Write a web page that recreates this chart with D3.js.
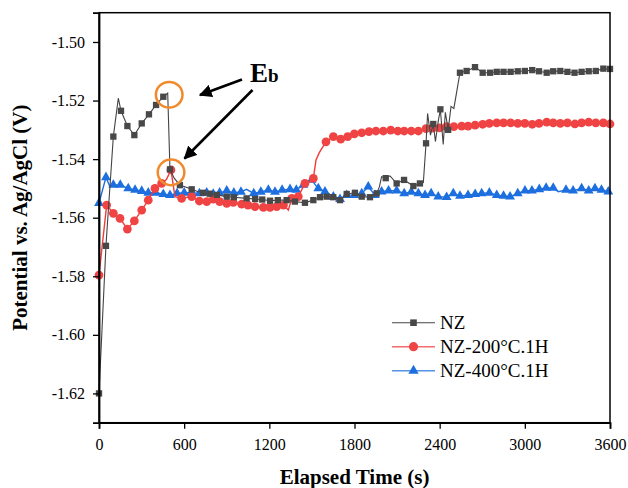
<!DOCTYPE html>
<html>
<head>
<meta charset="utf-8">
<script src="https://cdn.jsdelivr.net/npm/d3@7"></script>
<style>
  body { margin: 0; background: #fff; }
  text { font-family: "Liberation Serif", "Times New Roman", serif; }
</style>
</head>
<body>
<script>
// [time (s), potential (V)]
const nzData = [
  [0, -1.620], [49, -1.5696], [101, -1.5323], [136, -1.5192], [155, -1.5235], [200, -1.5287],
  [249, -1.5318], [301, -1.5278], [352, -1.5247], [402, -1.5215], [453, -1.5187], [484, -1.5175],
  [500, -1.5435], [530, -1.5465], [570, -1.5489], [610, -1.5495], [653, -1.5503], [690, -1.551],
  [733, -1.5515], [780, -1.5518], [830, -1.5522], [900, -1.5528], [950, -1.553], [1040, -1.5534],
  [1100, -1.5536], [1150, -1.5538], [1205, -1.5542], [1260, -1.554], [1322, -1.554], [1380, -1.5545],
  [1451, -1.5549], [1510, -1.554], [1557, -1.553], [1604, -1.5528], [1650, -1.553], [1698, -1.554],
  [1745, -1.5519], [1803, -1.5515], [1851, -1.5528], [1909, -1.553], [1956, -1.5517], [1975, -1.5495],
  [1991, -1.546], [2020, -1.5465], [2050, -1.5457], [2097, -1.5483], [2149, -1.5471], [2215, -1.5492],
  [2261, -1.5483], [2285, -1.548], [2304, -1.5346], [2315, -1.5244], [2335, -1.5318], [2355, -1.528],
  [2370, -1.534], [2390, -1.527], [2405, -1.523], [2425, -1.535], [2440, -1.524], [2460, -1.530],
  [2480, -1.522], [2500, -1.5227], [2543, -1.5105], [2590, -1.5099], [2649, -1.5086], [2703, -1.5105],
  [2755, -1.5105], [2802, -1.5102], [2850, -1.5102], [2900, -1.5102], [2950, -1.51], [3000, -1.5099],
  [3052, -1.5096], [3100, -1.51], [3154, -1.5105], [3200, -1.51], [3250, -1.5099], [3300, -1.5102],
  [3350, -1.5105], [3400, -1.5102], [3450, -1.51], [3500, -1.5099], [3553, -1.5091], [3600, -1.5092]
];

const nz200Data = [
  [0, -1.5796], [54, -1.5557], [101, -1.5585], [148, -1.5602], [200, -1.5639], [249, -1.5611],
  [301, -1.5574], [347, -1.554], [394, -1.55], [441, -1.5483], [475, -1.547], [507, -1.5437],
  [535, -1.5528], [582, -1.5534], [653, -1.5528], [707, -1.5543], [759, -1.5545], [805, -1.5537],
  [850, -1.5545], [900, -1.5551], [946, -1.5548], [1005, -1.5554], [1050, -1.5557], [1099, -1.5562],
  [1158, -1.5565], [1205, -1.5565], [1252, -1.5562], [1300, -1.5557], [1334, -1.5574], [1358, -1.5534],
  [1404, -1.5528], [1451, -1.5483], [1487, -1.5477], [1510, -1.5466], [1529, -1.5403], [1552, -1.5378],
  [1599, -1.5341], [1651, -1.5323], [1703, -1.5332], [1752, -1.5323], [1799, -1.5314], [1851, -1.531],
  [1902, -1.5306], [1951, -1.5304], [2003, -1.5304], [2055, -1.5301], [2105, -1.5304], [2150, -1.5304],
  [2200, -1.5304], [2250, -1.5304], [2304, -1.5296], [2350, -1.5294], [2400, -1.5293], [2449, -1.5289],
  [2500, -1.5289], [2555, -1.5287], [2600, -1.5287], [2650, -1.5284], [2703, -1.5281], [2750, -1.5278],
  [2802, -1.5276], [2850, -1.5276], [2900, -1.5276], [2950, -1.5278], [3000, -1.5278], [3052, -1.5281],
  [3100, -1.5278], [3154, -1.5274], [3200, -1.5276], [3250, -1.5278], [3300, -1.5276], [3353, -1.528],
  [3400, -1.5276], [3450, -1.5274], [3500, -1.5276], [3553, -1.5276], [3600, -1.528]
];

const nz400Data = [
  [0, -1.555], [49, -1.5462], [77, -1.5494], [101, -1.5488], [150, -1.5488], [206, -1.55],
  [254, -1.5505], [301, -1.5509], [347, -1.5515], [400, -1.5515], [453, -1.552], [500, -1.5523],
  [550, -1.5517], [600, -1.5515], [653, -1.5515], [707, -1.5517], [759, -1.5515], [805, -1.5519],
  [850, -1.5515], [900, -1.5508], [950, -1.5515], [1000, -1.5512], [1040, -1.5503], [1090, -1.5517],
  [1140, -1.5512], [1193, -1.5505], [1240, -1.5512], [1290, -1.5505], [1346, -1.5503], [1390, -1.5505],
  [1440, -1.5488], [1498, -1.5471], [1533, -1.5494], [1545, -1.55], [1592, -1.5511], [1651, -1.5528],
  [1698, -1.5537], [1745, -1.5523], [1800, -1.5523], [1851, -1.5517], [1897, -1.5494], [1944, -1.5523],
  [1991, -1.5511], [2040, -1.5508], [2097, -1.5508], [2150, -1.5517], [2200, -1.5512], [2250, -1.5517],
  [2297, -1.5523], [2340, -1.5517], [2390, -1.5528], [2449, -1.553], [2496, -1.5517], [2543, -1.5526],
  [2600, -1.5523], [2650, -1.552], [2696, -1.5517], [2750, -1.5515], [2802, -1.5523], [2850, -1.5526],
  [2896, -1.5528], [2950, -1.5517], [3001, -1.5508], [3050, -1.5508], [3102, -1.5503], [3150, -1.5498],
  [3200, -1.5498], [3236, -1.5511], [3290, -1.5505], [3340, -1.5508], [3400, -1.55], [3450, -1.5508],
  [3494, -1.55], [3540, -1.5505], [3588, -1.5511], [3600, -1.551]
];

const seriesNames = ["NZ", "NZ-200°C.1H", "NZ-400°C.1H"];
const xTicks = [0, 600, 1200, 1800, 2400, 3000, 3600];
const yTicks = [-1.62, -1.60, -1.58, -1.56, -1.54, -1.52, -1.50];

const width = 628;
const height = 488;
const margin = { top: 12.7, right: 18, bottom: 65.3, left: 99 };

let svg = d3
  .select("body")
  .append("svg")
  .attr("width", width)
  .attr("height", height);

let x = d3
  .scaleLinear()
  .domain([0, 3600])
  .range([margin.left, width - margin.right]);

let y = d3
  .scaleLinear()
  .domain([-1.63, -1.49])
  .range([height - margin.bottom, margin.top]);

// styles per series
let series = [
  { name: seriesNames[0], data: nzData, line: "#444", fill: "#484848", shape: d3.symbolSquare, size: 40 },
  { name: seriesNames[1], data: nz200Data, line: "#f03c3c", fill: "#f04444", shape: d3.symbolCircle, size: 60 },
  { name: seriesNames[2], data: nz400Data, line: "#1d6fe0", fill: "#1d6fe0", shape: d3.symbolTriangle, size: 42 }
];

let plot = svg.append("g");

let line = d3
  .line()
  .x(d => x(d[0]))
  .y(d => y(d[1]));

// keep markers about 6 px apart
let markerPoints = data => {
  let out = [];
  let last = -100;
  data.forEach(d => {
    if (x(d[0]) - last >= 6) {
      out.push(d);
      last = x(d[0]);
    }
  });
  return out;
};

// draw blue first, then red, then grey on top at the start like the original
[2, 1, 0].forEach(i => {
  let s = series[i];
  let g = plot.append("g");
  g.append("path")
    .datum(s.data)
    .attr("fill", "none")
    .attr("stroke", s.line)
    .attr("stroke-width", i === 0 ? 1.1 : 1.4)
    .attr("d", line);
  g.selectAll("path.m")
    .data(markerPoints(s.data))
    .enter()
    .append("path")
    .attr("class", "m")
    .attr("transform", d => `translate(${x(d[0])},${y(d[1])})`)
    .attr("d", d3.symbol().type(s.shape).size(s.size))
    .attr("fill", s.fill);
});

// frame
svg.append("rect")
  .attr("x", margin.left)
  .attr("y", margin.top)
  .attr("width", width - margin.left - margin.right)
  .attr("height", height - margin.top - margin.bottom)
  .attr("fill", "none")
  .attr("stroke", "#000")
  .attr("stroke-width", 1.5);

// x axis
let xAxis = svg.append("g")
  .attr("transform", `translate(0,${height - margin.bottom})`);
xAxis.call(d3.axisBottom(x).tickValues(d3.range(0, 3601, 300)).tickSize(3).tickFormat(""));
xAxis.call(d3.axisBottom(x).tickValues(xTicks).tickSize(6).tickPadding(10).tickFormat(d3.format("d")));
xAxis.selectAll(".domain").attr("stroke-width", 1.8);
xAxis.selectAll("line").attr("stroke-width", 1.3);
xAxis.selectAll("text").attr("font-size", 16).attr("fill", "#000")
  .style("font-family", '"Liberation Serif", serif');

// y axis
let yAxis = svg.append("g")
  .attr("transform", `translate(${margin.left},0)`);
yAxis.call(d3.axisLeft(y).tickValues(d3.range(-1.63, -1.489, 0.01)).tickSize(3).tickFormat(""));
yAxis.call(d3.axisLeft(y).tickValues(yTicks).tickSize(6).tickPadding(8).tickFormat(d3.format(".2f")));
yAxis.selectAll(".domain").attr("stroke-width", 1.8);
yAxis.selectAll("line").attr("stroke-width", 1.3);
yAxis.selectAll("text").attr("font-size", 16).attr("fill", "#000")
  .style("font-family", '"Liberation Serif", serif')
  .text(d => d3.format(".2f")(d).replace("−", "-"));

// axis titles
svg.append("text")
  .attr("x", (margin.left + width - margin.right) / 2)
  .attr("y", 484)
  .attr("text-anchor", "middle")
  .attr("font-size", 21)
  .attr("font-weight", "bold")
  .text("Elapsed Time (s)");

svg.append("text")
  .attr("transform", `translate(27,${(margin.top + height - margin.bottom) / 2}) rotate(-90)`)
  .attr("text-anchor", "middle")
  .attr("font-size", 21)
  .attr("font-weight", "bold")
  .text("Potential vs. Ag/AgCl (V)");

// legend
let legend = svg.append("g");
series.forEach((s, i) => {
  let ly = 322.7 + i * 24;
  legend.append("line")
    .attr("x1", 392).attr("x2", 435)
    .attr("y1", ly).attr("y2", ly)
    .attr("stroke", s.line)
    .attr("stroke-opacity", i === 0 ? 1 : 0.75)
    .attr("stroke-width", i === 0 ? 1.1 : 1.6);
  legend.append("path")
    .attr("transform", `translate(413.5,${ly})`)
    .attr("d", d3.symbol().type(s.shape).size(s.size * 1.1))
    .attr("fill", s.fill);
  legend.append("text")
    .attr("x", 440)
    .attr("y", ly + 6.5)
    .attr("font-size", 19)
    .text(s.name);
});

// E_b annotation
let note = svg.append("g");
note.append("defs")
  .append("marker")
  .attr("id", "head")
  .attr("viewBox", "0 0 10 10")
  .attr("refX", 9)
  .attr("refY", 5)
  .attr("markerWidth", 5)
  .attr("markerHeight", 5)
  .attr("orient", "auto")
  .append("path")
  .attr("d", "M0,0L10,5L0,10z")
  .attr("fill", "#000");

[[x(484), y(-1.5175)], [x(497), y(-1.5440)]].forEach(c => {
  note.append("ellipse")
    .attr("cx", c[0] + 1.5)
    .attr("cy", c[1] + 1.5)
    .attr("rx", 13.3)
    .attr("ry", 12.8)
    .attr("fill", "none")
    .attr("stroke", "#f08a2c")
    .attr("stroke-width", 2.5);
});

note.append("line")
  .attr("x1", 242).attr("y1", 79.5)
  .attr("x2", 200).attr("y2", 95)
  .attr("stroke", "#000").attr("stroke-width", 2.6)
  .attr("marker-end", "url(#head)");
note.append("line")
  .attr("x1", 252.5).attr("y1", 90)
  .attr("x2", 184.5).attr("y2", 158.5)
  .attr("stroke", "#000").attr("stroke-width", 2.6)
  .attr("marker-end", "url(#head)");

let eb = note.append("text")
  .attr("x", 250)
  .attr("y", 81.5)
  .attr("font-size", 27)
  .attr("font-weight", "bold");
eb.append("tspan").text("E");
eb.append("tspan").attr("font-size", 19).text("b");
</script>
</body>
</html>
